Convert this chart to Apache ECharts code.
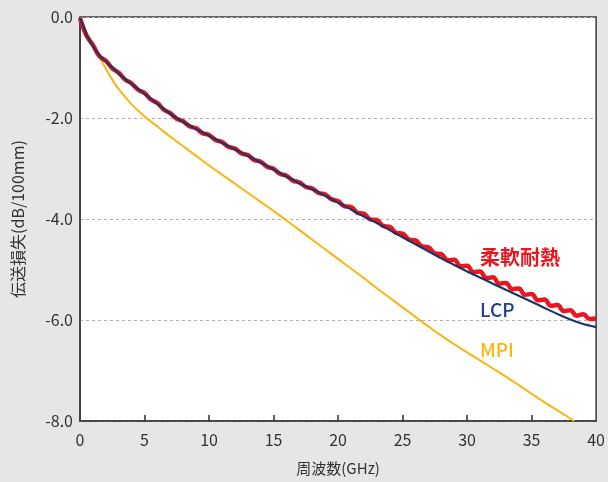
<!DOCTYPE html>
<html><head><meta charset="utf-8">
<script src="https://cdn.jsdelivr.net/npm/echarts@6/dist/echarts.min.js"></script>
<style>html,body{margin:0;padding:0;background:#e6e6e6}#c{width:608px;height:482px}</style>
</head><body><div id="c"></div>
<script>
// frequency (GHz) and loss (dB/100mm)
const lcpX = [0,0.25,0.5,1,1.5,2,2.5,3,4,5,6,7,8,9,10,11,12,13,14,15,16,17,18,19,20,21,22,23,24,25,26,27,28,29,30,31,32,33,34,35,36,37,38,39,40];
const lcpY = [-0.02,-0.18,-0.35,-0.57,-0.76,-0.88,-1.0,-1.12,-1.33,-1.52,-1.72,-1.92,-2.08,-2.22,-2.35,-2.49,-2.62,-2.75,-2.88,-3.02,-3.16,-3.29,-3.41,-3.54,-3.68,-3.81,-3.95,-4.08,-4.22,-4.36,-4.5,-4.64,-4.78,-4.91,-5.04,-5.16,-5.28,-5.40,-5.52,-5.64,-5.76,-5.88,-5.99,-6.08,-6.14];

const mpiX = [0,0.5,1,1.5,2,2.5,3,4,5,6,7,8,9,10,11,12,13,14,15,16,17,18,19,20,21,22,23,24,25,26,27,28,29,30,31,32,33,34,35,36,37,38,38.3];
const mpiY = [-0.02,-0.3,-0.55,-0.79,-1.02,-1.24,-1.43,-1.73,-1.97,-2.17,-2.37,-2.56,-2.75,-2.94,-3.12,-3.3,-3.48,-3.66,-3.84,-4.03,-4.22,-4.41,-4.60,-4.79,-4.98,-5.17,-5.37,-5.56,-5.75,-5.94,-6.13,-6.31,-6.48,-6.64,-6.80,-6.96,-7.12,-7.29,-7.46,-7.63,-7.79,-7.95,-8.0];

const flexX = [0,0.5,1,1.5,2,2.5,3,3.5,4,4.5,5,5.5,6,6.5,7,7.5,8,8.5,9,9.5,10,10.5,11,11.5,12,12.5,13,13.5,14,14.5,15,15.5,16,16.5,17,17.5,18,18.5,19,19.5,20,20.5,21,21.5,22,22.5,23,23.5,24,24.5,25,25.5,26,26.5,27,27.5,28,28.5,29,29.5,30,30.5,31,31.5,32,32.5,33,33.5,34,34.5,35,35.5,36,36.5,37,37.5,38,38.5,39,39.5,40];
const flexY = [-0.02,-0.365,-0.555,-0.775,-0.865,-1.015,-1.105,-1.24,-1.315,-1.44,-1.505,-1.635,-1.705,-1.835,-1.905,-2.015,-2.065,-2.165,-2.205,-2.30,-2.335,-2.435,-2.475,-2.57,-2.605,-2.70,-2.735,-2.83,-2.865,-2.965,-3.005,-3.105,-3.145,-3.24,-3.275,-3.365,-3.395,-3.485,-3.515,-3.61,-3.645,-3.748,-3.76,-3.878,-3.895,-4.008,-4.02,-4.138,-4.155,-4.273,-4.29,-4.408,-4.425,-4.543,-4.56,-4.678,-4.695,-4.815,-4.805,-4.935,-4.925,-5.053,-5.04,-5.168,-5.155,-5.28,-5.265,-5.39,-5.375,-5.50,-5.485,-5.61,-5.595,-5.72,-5.705,-5.825,-5.805,-5.915,-5.885,-5.98,-5.97];

const xTicks = [0,5,10,15,20,25,30,35,40];
const yTicks = [0,-2,-4,-6,-8];

const seriesNames = ['柔軟耐熱','LCP','MPI'];
const colors = ['#e8171f','#1d3566','#f6b710'];

const zip = (xs, ys) => xs.map((x, i) => [x, ys[i]]);
const FONT = '"Noto Sans CJK JP", "Noto Sans", sans-serif';
const yMin = yTicks[yTicks.length-1];
const tickLen = 0.12; // inward tick length in axis units (~6px)

const chart = echarts.init(document.getElementById('c'));
chart.setOption({
  backgroundColor: '#e6e6e6',
  animation: false,
  grid: {left: 80, right: 11, top: 17, bottom: 61, show: true, backgroundColor: '#ffffff', borderColor: '#3a3a3a', borderWidth: 1.5},
  xAxis: {
    type: 'value', min: xTicks[0], max: xTicks[xTicks.length-1], interval: 5,
    name: '周波数(GHz)', nameLocation: 'middle', nameGap: 40,
    nameTextStyle: {fontFamily: FONT, fontSize: 15, color: '#333'},
    axisLine: {show: true, onZero: false, lineStyle: {color: '#3a3a3a', width: 1.5}},
    axisTick: {show: false},
    axisLabel: {fontFamily: FONT, fontSize: 16, color: '#333', margin: 11},
    splitLine: {show: false}
  },
  yAxis: {
    type: 'value', min: yMin, max: yTicks[0], interval: 2,
    name: '伝送損失(dB/100mm)', nameLocation: 'middle', nameGap: 54, nameRotate: 90,
    nameTextStyle: {fontFamily: FONT, fontSize: 16, color: '#333'},
    axisLine: {show: true, onZero: false, lineStyle: {color: '#3a3a3a', width: 1.5}},
    axisTick: {show: false},
    axisLabel: {fontFamily: FONT, fontSize: 16, color: '#333', margin: 7, formatter: v => v.toFixed(1)},
    splitLine: {show: true, lineStyle: {color: '#b0b0b0', type: [3, 3], width: 1}}
  },
  series: [
    {name: seriesNames[2], type: 'line', data: zip(mpiX, mpiY), showSymbol: false, smooth: 0.2, lineStyle: {color: colors[2], width: 2}, z: 2,
     markLine: {silent: true, symbol: 'none', label: {show: false}, animation: false,
       lineStyle: {color: '#2a2a2a', width: 1.5, type: 'solid'},
       data: xTicks.slice(1, -1).map(x => [{coord: [x, yMin]}, {coord: [x, yMin + tickLen]}])}},
    {name: seriesNames[0], type: 'line', data: zip(flexX, flexY), showSymbol: false, smooth: 0.4, lineStyle: {color: colors[0], width: 4.5}, z: 3},
    {name: seriesNames[1], type: 'line', data: zip(lcpX, lcpY), showSymbol: false, smooth: 0.2, lineStyle: {color: colors[1], width: 2.2}, z: 4}
  ],
  graphic: [
    {type: 'text', left: 480, top: 247, style: {text: seriesNames[0], fill: colors[0], font: 'bold 20px ' + FONT}},
    {type: 'text', left: 480, top: 300, style: {text: seriesNames[1], fill: '#1f3f8f', font: '500 19px ' + FONT}},
    {type: 'text', left: 480, top: 340, style: {text: seriesNames[2], fill: colors[2], font: '500 19px ' + FONT}}
  ]
});
</script></body></html>
